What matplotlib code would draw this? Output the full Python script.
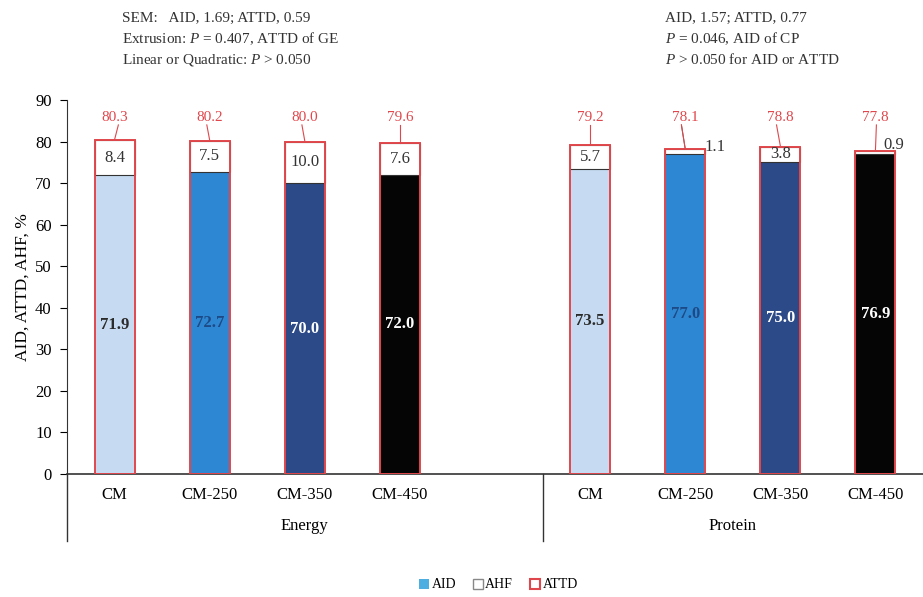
import matplotlib
matplotlib.use("Agg")
import matplotlib.pyplot as plt
from matplotlib.patches import Patch

plt.rcParams['font.family'] = ['Liberation Serif', 'DejaVu Serif']
plt.rcParams['mathtext.fontset'] = 'custom'
plt.rcParams['mathtext.rm'] = 'Liberation Serif'
plt.rcParams['mathtext.it'] = 'Liberation Serif:italic'

# diet labels, two groups (energy, protein) with an empty slot between
diets = ['CM', 'CM-250', 'CM-350', 'CM-450']
groups = ['Energy', 'Protein']
x_pos = [0, 1, 2, 3, 5, 6, 7, 8]

aid = [71.9, 72.7, 70.0, 72.0, 73.5, 77.0, 75.0, 76.9]
ahf = [8.4, 7.5, 10.0, 7.6, 5.7, 1.1, 3.8, 0.9]
attd = [80.3, 80.2, 80.0, 79.6, 79.2, 78.1, 78.8, 77.8]

bar_colors = ['#c6dbf1', '#2e87d2', '#2c4a88', '#050505'] * 2
aid_text = ['#2b2b2b', '#1d4a86', 'white', 'white'] * 2
red = '#e0474c'

fig = plt.figure(figsize=(9.23, 5.97), dpi=100)
ax = fig.add_axes([67 / 923, 123 / 597, (923 - 67) / 923, 374 / 597])

w = 0.42
ax.bar(x_pos, aid, width=w, color=bar_colors, edgecolor='none', zorder=2)
ax.bar(x_pos, ahf, bottom=aid, width=w, color='white', edgecolor='#333333',
       linewidth=0.8, zorder=2)
ax.bar(x_pos, attd, width=w, facecolor='none', edgecolor=red, linewidth=1.4, zorder=3)

# labels inside / above the bars
for i, x in enumerate(x_pos):
    ax.text(x, aid[i] / 2, f'{aid[i]:.1f}', ha='center', va='center',
            fontsize=12, fontweight='bold', color=aid_text[i], zorder=4)
    if ahf[i] >= 2:
        ax.text(x, aid[i] + ahf[i] / 2, f'{ahf[i]:.1f}', ha='center', va='center',
                fontsize=12, color='#333333', zorder=4)
    ax.text(x, 85.7, f'{attd[i]:.1f}', ha='center', va='center',
            fontsize=11, color=red, zorder=4)

# leader lines from the ATTD labels down to the bar tops
lead_dx = [0.04, -0.03, -0.03, 0.0, 0.0, -0.04, -0.04, 0.01]
for i, x in enumerate(x_pos):
    ax.plot([x + lead_dx[i], x], [84.0, attd[i] + 0.15], color=red,
            linewidth=0.8, zorder=4)

# small AHF values placed beside the bars
ax.text(6.31, 78.7, '1.1', ha='center', va='center', fontsize=12, color='#333333')
ax.plot([5.96, 6.0], [84.0, 78.25], color='#555555', linewidth=0.7)
ax.text(8.19, 79.2, '0.9', ha='center', va='center', fontsize=12, color='#333333')

ax.set_xlim(-0.5, 8.5)
ax.set_ylim(0, 90)
ax.set_yticks(range(0, 91, 10))
ax.tick_params(axis='y', direction='out', length=5, labelsize=12, pad=6)
ax.set_xticks([])
for s in ['top', 'right']:
    ax.spines[s].set_visible(False)
ax.spines['left'].set_color('#333333')
ax.spines['bottom'].set_color('#333333')
ax.spines['bottom'].set_linewidth(1.2)
ax.set_ylabel('AID, ATTD, AHF, %', fontsize=12.5, labelpad=3)

# category and group labels under the axis
trans = ax.get_xaxis_transform()
for i, x in enumerate(x_pos):
    ax.text(x, -0.056, diets[i % 4], transform=trans, ha='center', va='center',
            fontsize=12)
ax.text(2.0, -0.139, groups[0], transform=trans, ha='center', va='center', fontsize=12)
ax.text(6.5, -0.139, groups[1], transform=trans, ha='center', va='center', fontsize=12)
for xv in [-0.5, 4.5]:
    ax.plot([xv, xv], [0, -0.18], transform=trans, color='#333333',
            linewidth=1.0, clip_on=False)

# statistics notes
fig.text(122 / 923, 1 - 18 / 597, 'SEM:   AID, 1.69; ATTD, 0.59', fontsize=11,
         va='center', color='#333333')
fig.text(122 / 923, 1 - 39 / 597, 'Extrusion: $P$ = 0.407, ATTD of GE', fontsize=11,
         va='center', color='#333333')
fig.text(122 / 923, 1 - 60 / 597, 'Linear or Quadratic: $P$ > 0.050', fontsize=11,
         va='center', color='#333333')
fig.text(665 / 923, 1 - 18 / 597, 'AID, 1.57; ATTD, 0.77', fontsize=11,
         va='center', color='#333333')
fig.text(665 / 923, 1 - 39 / 597, '$P$ = 0.046, AID of CP', fontsize=11,
         va='center', color='#333333')
fig.text(665 / 923, 1 - 60 / 597, '$P$ > 0.050 for AID or ATTD', fontsize=11,
         va='center', color='#333333')

handles = [Patch(facecolor='#4daee2', edgecolor='none', label='AID'),
           Patch(facecolor='white', edgecolor='#888888', label='AHF'),
           Patch(facecolor='white', edgecolor=red, linewidth=1.5, label='ATTD')]
fig.legend(handles=handles, loc='center', bbox_to_anchor=(0.54, 12 / 597), ncol=3,
           frameon=False, fontsize=10, handlelength=0.7, handleheight=0.7,
           handletextpad=0.2, columnspacing=1.2)

fig.savefig('out.png', dpi=100)
